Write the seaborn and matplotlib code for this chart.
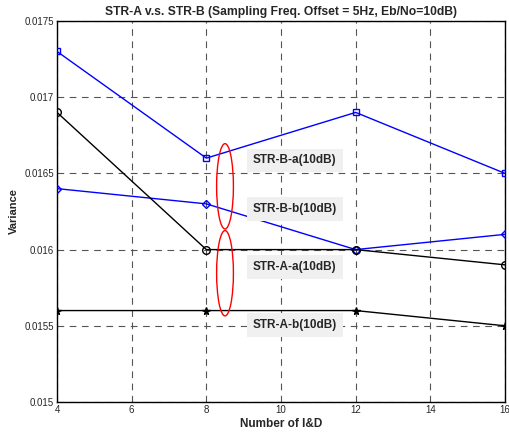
import numpy as np
import pandas as pd
import matplotlib
matplotlib.use('Agg')
import matplotlib.pyplot as plt
from matplotlib.patches import Ellipse
import seaborn as sns

# data
num_id = [4, 8, 12, 16]
str_b_a = [0.0173, 0.0166, 0.0169, 0.0165]
str_b_b = [0.0164, 0.0163, 0.0160, 0.0161]
str_a_a = [0.0169, 0.0160, 0.0160, 0.0159]
str_a_b = [0.0156, 0.0156, 0.0156, 0.0155]

labels = ['STR-B-a(10dB)', 'STR-B-b(10dB)', 'STR-A-a(10dB)', 'STR-A-b(10dB)']
label_y = [0.016585, 0.016265, 0.015885, 0.015505]
ellipse_y = [0.016415, 0.015845]

sns.set_style('white')
plt.rcParams['font.family'] = ['Liberation Sans', 'DejaVu Sans']

df = pd.DataFrame({
    'N': num_id * 4,
    'var': str_b_a + str_b_b + str_a_a + str_a_b,
    'series': sum([[s] * 4 for s in labels], []),
})

fig = plt.figure(figsize=(5.1, 4.34), dpi=100)
ax = fig.add_axes([0.1118, 0.0737, 0.8784, 0.878])

styles = {
    'STR-B-a(10dB)': dict(color='blue', marker='s', mfc='none', ms=5),
    'STR-B-b(10dB)': dict(color='blue', marker='D', mfc='none', ms=4),
    'STR-A-a(10dB)': dict(color='black', marker='o', mfc='none', ms=5.5),
    'STR-A-b(10dB)': dict(color='black', marker='*', mfc='black', ms=5.5),
}
for name in labels:
    st = styles[name]
    sns.lineplot(data=df[df['series'] == name], x='N', y='var', ax=ax,
                 color=st['color'], marker=st['marker'], markersize=st['ms'],
                 markerfacecolor=st['mfc'], markeredgecolor=st['color'],
                 markeredgewidth=1, linewidth=1, zorder=3)

ax.set_xlim(4, 16)
ax.set_ylim(0.015, 0.0175)
ax.set_xticks(np.arange(4, 17, 2))
ax.set_yticks([0.015, 0.0155, 0.016, 0.0165, 0.017, 0.0175])
ax.set_yticklabels(['0.015', '0.0155', '0.016', '0.0165', '0.017', '0.0175'])
ax.tick_params(labelsize=7, length=0, pad=2)
ax.grid(True, linestyle=(0, (6, 5)), color='#555555', linewidth=0.8)
for sp in ax.spines.values():
    sp.set_color('black')
    sp.set_linewidth(1)

for txt, y in zip(labels, label_y):
    ax.text(10.37, y, txt, fontsize=8.5, fontweight='bold', ha='center', va='center',
            bbox=dict(boxstyle='square,pad=0.5', fc='#f0f0f0', ec='none'), zorder=4)

for y in ellipse_y:
    ax.add_patch(Ellipse((8.5, y), 0.45, 0.00056, fill=False, ec='red', lw=1, zorder=5))

ax.set_title('STR-A v.s. STR-B (Sampling Freq. Offset = 5Hz, Eb/No=10dB)',
             fontsize=8.7, fontweight='bold', pad=4)
ax.set_xlabel('Number of I&D', fontsize=8.5, fontweight='bold', labelpad=2)
ax.set_ylabel('Variance', fontsize=8, fontweight='bold', labelpad=4)

plt.savefig('out.png', dpi=100, facecolor='white')
